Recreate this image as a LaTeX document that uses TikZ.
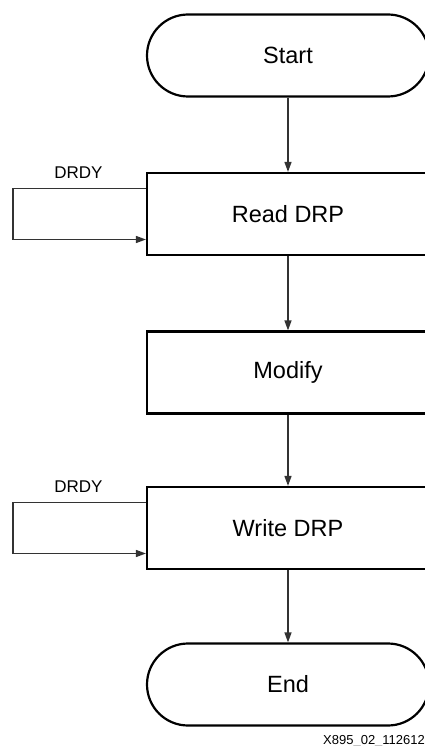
\documentclass[tikz,border=0pt]{standalone}
\usepackage{fontspec}
\setmainfont{Liberation Sans}
\usetikzlibrary{arrows.meta}
\begin{document}
\begin{tikzpicture}[x=1pt,y=-1pt,
  stepbox/.style={draw=black, line width=2.2pt, minimum width=282pt, minimum height=82pt,
    inner sep=0pt, font=\fontsize{23.5}{27}\selectfont},
  terminal/.style={stepbox, rounded corners=41pt},
  conn/.style={draw=black!80, line width=1.4pt, -{Triangle[length=10pt,width=7pt]}},
  flag/.style={font=\fontsize{17}{20}\selectfont, inner sep=0pt}]
  \useasboundingbox (0,0) rectangle (425,746);

  % flow steps
  \node[terminal] (start) at (288,55.5) {Start};
  \node[stepbox] (rd) at (288,214) {Read DRP};
  \node[stepbox] (mod) at (288,372.5) {Modify};
  \node[stepbox] (wr) at (288,528) {Write DRP};
  \node[terminal] (stop) at (288,684.5) {End};

  % main flow
  \draw[conn] (start) -- (rd);
  \draw[conn] (rd) -- (mod);
  \draw[conn] (mod) -- (wr);
  \draw[conn] (wr) -- (stop);

  % DRDY wait loop on the read step: leaves high, returns low
  \coordinate (rdout) at ([yshift=25.5pt]rd.west);
  \coordinate (rdin) at ([yshift=-25.5pt]rd.west);
  \coordinate (rdl) at (13,0);
  \draw[conn] (rdout) -| (rdl |- rdout) |- (rdin);
  \node[flag] (rdflag) at (78.5,172.5) {DRDY};

  % DRDY wait loop on the write step
  \coordinate (wrout) at ([yshift=25.5pt]wr.west);
  \coordinate (wrin) at ([yshift=-25.5pt]wr.west);
  \draw[conn] (wrout) -| (rdl |- wrout) |- (wrin);
  \node[flag] (wrflag) at (78.5,486.5) {DRDY};

  % figure tag
  \node[anchor=base west, inner sep=0pt, font=\fontsize{13}{15}\selectfont] (tag) at (323,744) {X895\_02\_112612};
\end{tikzpicture}
\end{document}
